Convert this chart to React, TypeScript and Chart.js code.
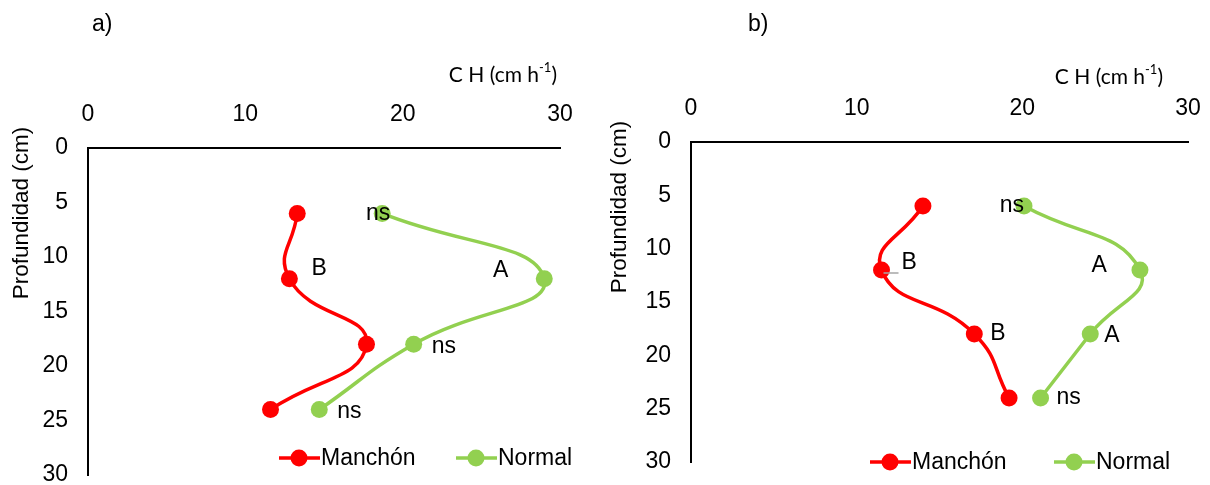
import React, { useEffect, useRef } from 'react';
import { Chart, registerables } from 'chart.js';
Chart.register(...registerables);

// ---- data ----
const depths = [6, 12, 18, 24];
const manchonA = [13.3, 12.8, 17.7, 11.6];
const normalA = [18.7, 29.0, 20.7, 14.7];
const manchonB = [14.0, 11.5, 17.1, 19.2];
const normalB = [20.1, 27.1, 24.1, 21.1];
const xTickValues = [0, 10, 20, 30];
const yTickValues = [0, 5, 10, 15, 20, 25, 30];
const seriesNames = ['Manchón', 'Normal'];
const lettersManchonA = ['', 'B', '', ''];
const lettersNormalA = ['ns', 'A', 'ns', 'ns'];
const lettersManchonB = ['', 'B', 'B', ''];
const lettersNormalB = ['ns', 'A', 'A', 'ns'];
const panelTitles = ['a)', 'b)'];
const xTitle = 'C H (cm h';
const xTitleSup = '-1';
const yTitle = 'Profundidad (cm)';

const RED = '#FF0000';
const GREEN = '#92D050';
const FONT = '"Liberation Sans", Arial, sans-serif';
const TFONT = 'Lato, "Open Sans", sans-serif';

type Off = { dx: number; dy: number; align: CanvasTextAlign; leader?: boolean };

type PanelCfg = {
  manchon: number[];
  normal: number[];
  lm: string[];
  ln: string[];
  offM: Off[];
  offN: Off[];
  title: string;
  area: { left: number; top: number; right: number; bottom: number };
  titlePos: [number, number];
  xTitlePos: [number, number];
  yTitlePos: [number, number];
  legendY: number;
  legendX: [number, number];
};

const O = (dx: number, dy: number, align: CanvasTextAlign, leader = false): Off => ({ dx, dy, align, leader });

const panels: PanelCfg[] = [
  {
    manchon: manchonA,
    normal: normalA,
    lm: lettersManchonA,
    ln: lettersNormalA,
    offM: [O(0, 0, 'left'), O(22, -10, 'left'), O(0, 0, 'left'), O(0, 0, 'left')],
    offN: [O(8, 0, 'right'), O(-36, -8, 'right'), O(18, 2, 'left'), O(18, 2, 'left')],
    title: panelTitles[0],
    area: { left: 88, top: 148, right: 560, bottom: 475 },
    titlePos: [92, 25],
    xTitlePos: [557, 75],
    yTitlePos: [22, 213],
    legendY: 458,
    legendX: [279, 456],
  },
  {
    manchon: manchonB,
    normal: normalB,
    lm: lettersManchonB,
    ln: lettersNormalB,
    offM: [O(0, 0, 'left'), O(20, -7, 'left', true), O(16, 0, 'left'), O(0, 0, 'left')],
    offN: [O(0, 0, 'right'), O(-33, -4, 'right'), O(14, 2, 'left'), O(16, 0, 'left')],
    title: panelTitles[1],
    area: { left: 86, top: 142, right: 583, bottom: 462 },
    titlePos: [143, 25],
    xTitlePos: [558, 77],
    yTitlePos: [15, 207],
    legendY: 462,
    legendX: [265, 449],
  },
];

function makePlugin(p: PanelCfg) {
  return {
    id: 'decor',
    afterDraw(chart: any) {
      const ctx: CanvasRenderingContext2D = chart.ctx;
      const xs = chart.scales.x;
      const ys = chart.scales.y;
      ctx.save();
      ctx.fillStyle = '#000';
      // panel title
      ctx.font = `23px ${FONT}`;
      ctx.textAlign = 'left';
      ctx.textBaseline = 'middle';
      ctx.fillText(p.title, p.titlePos[0], p.titlePos[1]);
      // x title with superscript
      const big = `21px ${TFONT}`;
      const small = `13px ${TFONT}`;
      ctx.font = big;
      const w1 = ctx.measureText(xTitle).width;
      ctx.font = small;
      const w2 = ctx.measureText(xTitleSup).width;
      ctx.font = big;
      const w3 = ctx.measureText(')').width;
      const x0 = p.xTitlePos[0] - (w1 + w2 + w3);
      ctx.fillText(xTitle, x0, p.xTitlePos[1]);
      ctx.font = small;
      ctx.fillText(xTitleSup, x0 + w1, p.xTitlePos[1] - 7);
      ctx.font = big;
      ctx.fillText(')', x0 + w1 + w2, p.xTitlePos[1]);
      // y title
      ctx.save();
      ctx.translate(p.yTitlePos[0], p.yTitlePos[1]);
      ctx.rotate(-Math.PI / 2);
      ctx.font = `22.5px ${FONT}`;
      ctx.textAlign = 'center';
      ctx.fillText(yTitle, 0, 0);
      ctx.restore();
      // annotation letters
      ctx.font = `23px ${FONT}`;
      const drawLetters = (vals: number[], letters: string[], offs: Off[]) => {
        letters.forEach((t, i) => {
          if (!t) return;
          const px = xs.getPixelForValue(vals[i]);
          const py = ys.getPixelForValue(depths[i]);
          const o = offs[i];
          if (o.leader) {
            ctx.save();
            ctx.strokeStyle = '#A6A6A6';
            ctx.lineWidth = 1.5;
            ctx.beginPath();
            ctx.moveTo(px + 2, py + 3);
            ctx.lineTo(px + 17, py + 3);
            ctx.stroke();
            ctx.restore();
          }
          ctx.textAlign = o.align;
          ctx.fillStyle = '#000';
          ctx.fillText(t, px + o.dx, py + o.dy);
        });
      };
      drawLetters(p.manchon, p.lm, p.offM);
      drawLetters(p.normal, p.ln, p.offN);
      // legend
      const cols = [RED, GREEN];
      seriesNames.forEach((name, i) => {
        const lx = p.legendX[i];
        const ly = p.legendY;
        ctx.strokeStyle = cols[i];
        ctx.lineWidth = 3.5;
        ctx.beginPath();
        ctx.moveTo(lx, ly);
        ctx.lineTo(lx + 41, ly);
        ctx.stroke();
        ctx.fillStyle = cols[i];
        ctx.beginPath();
        ctx.arc(lx + 20, ly, 8.5, 0, Math.PI * 2);
        ctx.fill();
        ctx.fillStyle = '#000';
        ctx.font = `23px ${FONT}`;
        ctx.textAlign = 'left';
        ctx.fillText(name, lx + 42, ly + 1);
      });
      ctx.restore();
    },
  };
}

function Panel({ p, left }: { p: PanelCfg; left: number }) {
  const ref = useRef<HTMLCanvasElement>(null);
  useEffect(() => {
    if (!ref.current) return;
    const W = 605;
    const H = 485;
    const mk = (vals: number[], color: string, label: string) => ({
      label,
      data: vals.map((v, i) => ({ x: v, y: depths[i] })),
      showLine: true,
      borderColor: color,
      backgroundColor: color,
      borderWidth: 3.5,
      pointRadius: 8.5,
      pointHoverRadius: 8.5,
      pointBorderWidth: 0,
      pointBackgroundColor: color,
      tension: 0.5,
    });
    const chart = new Chart(ref.current, {
      type: 'scatter',
      data: {
        datasets: [mk(p.manchon, RED, seriesNames[0]), mk(p.normal, GREEN, seriesNames[1])],
      },
      options: {
        responsive: false,
        animation: false,
        events: [],
        layout: { padding: { left: 0, top: 0, right: W - p.area.right, bottom: H - p.area.bottom } },
        plugins: { legend: { display: false }, tooltip: { enabled: false } },
        scales: {
          x: {
            type: 'linear',
            position: 'top',
            min: 0,
            max: 30,
            afterBuildTicks: (s: any) => {
              s.ticks = xTickValues.map((v) => ({ value: v }));
            },
            afterFit: (s: any) => {
              s.height = p.area.top;
              s.paddingLeft = 0;
              s.paddingRight = 0;
            },
            ticks: { font: { size: 23, family: FONT }, color: '#000', padding: 20 },
            grid: { display: true, drawOnChartArea: false, drawTicks: false },
            border: { display: true, color: '#000', width: 2 },
          },
          y: {
            type: 'linear',
            reverse: true,
            min: 0,
            max: 30,
            afterBuildTicks: (s: any) => {
              s.ticks = yTickValues.map((v) => ({ value: v }));
            },
            afterFit: (s: any) => {
              s.width = p.area.left;
              s.paddingTop = 0;
              s.paddingBottom = 0;
            },
            ticks: { font: { size: 23, family: FONT }, color: '#000', padding: 20 },
            grid: { display: true, drawOnChartArea: false, drawTicks: false },
            border: { display: true, color: '#000', width: 2 },
          },
        },
      } as any,
      plugins: [makePlugin(p)],
    });
    return () => chart.destroy();
  }, []);
  return (
    <canvas
      ref={ref}
      width={605}
      height={485}
      style={{ position: 'absolute', left, top: 0, width: 605, height: 485 }}
    />
  );
}

export default function App() {
  return (
    <div style={{ position: 'absolute', left: 0, top: 0, width: 1210, height: 485, background: '#fff' }}>
      <Panel p={panels[0]} left={0} />
      <Panel p={panels[1]} left={605} />
    </div>
  );
}
